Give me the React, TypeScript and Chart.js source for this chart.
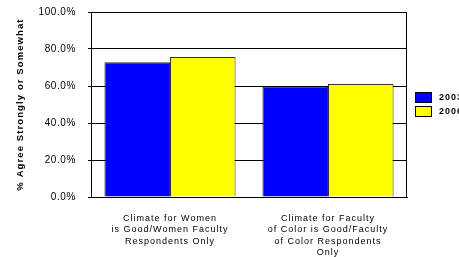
import React, { useEffect, useRef } from "react";
import { Chart, registerables, CategoryScale, LinearScale } from "chart.js";

Chart.register(...registerables);

class SpacedCategoryScale extends CategoryScale {
  static id = "spacedCategory";
  static defaults = CategoryScale.defaults;
  drawLabels(chartArea: any) {
    const ctx = (this as any).ctx as CanvasRenderingContext2D;
    ctx.save();
    (ctx as any).letterSpacing = "1px";
    super.drawLabels(chartArea);
    ctx.restore();
  }
}

class SpacedLinearScale extends LinearScale {
  static id = "spacedLinear";
  static defaults = LinearScale.defaults;
  drawTitle() {
    const ctx = (this as any).ctx as CanvasRenderingContext2D;
    ctx.save();
    (ctx as any).letterSpacing = "1.1px";
    super.drawTitle();
    ctx.restore();
  }
}
Chart.register(SpacedCategoryScale, SpacedLinearScale);

const categories: string[][] = [
  ["Climate for Women", "is Good/Women Faculty", "Respondents Only"],
  ["Climate for Faculty", "of Color is Good/Faculty", "of Color Respondents", "Only"],
];
const seriesLabels = ["2003", "2006"];
const values2003 = [72.8, 59.6];
const values2006 = [75.7, 61.1];
const seriesColors = ["#0000FF", "#FFFF00"];
const yTicks = [0, 20, 40, 60, 80, 100];

const FONT = "Arial, 'Liberation Sans', sans-serif";

const framePlugin = {
  id: "frame",
  beforeDraw(chart: any) {
    (chart.ctx as any).letterSpacing = "0.6px";
  },
  afterDatasetsDraw(chart: any) {
    const { ctx, chartArea } = chart;
    ctx.save();
    ctx.strokeStyle = "#000";
    ctx.lineWidth = 1;
    ctx.strokeRect(
      Math.round(chartArea.left) + 0.5,
      Math.round(chartArea.top) + 0.5,
      Math.round(chartArea.right - chartArea.left) - 1,
      Math.round(chartArea.bottom - chartArea.top)
    );
    ctx.restore();
  },
  afterDraw(chart: any) {
    const { ctx, chartArea } = chart;
    ctx.save();
    (ctx as any).letterSpacing = "1px";
    const boxW = 17;
    const boxH = 11;
    const rowH = 14;
    const ds = chart.data.datasets;
    const total = ds.length * rowH - (rowH - boxH);
    const cy = (chartArea.top + chartArea.bottom) / 2;
    const x0 = Math.round(chartArea.right + 8);
    let y = Math.round(cy - total / 2);
    ctx.font = `bold 9px ${FONT}`;
    ctx.textBaseline = "middle";
    ctx.textAlign = "left";
    ds.forEach((d: any) => {
      ctx.fillStyle = d.backgroundColor;
      ctx.fillRect(x0, y, boxW, boxH);
      ctx.strokeStyle = "#000";
      ctx.lineWidth = 1;
      ctx.strokeRect(x0 + 0.5, y + 0.5, boxW - 1, boxH - 1);
      ctx.fillStyle = "#000";
      ctx.fillText(d.label, x0 + boxW + 7, y + boxH / 2 + 0.5);
      y += rowH;
    });
    ctx.restore();
  },
};

export default function App() {
  const ref = useRef<HTMLCanvasElement | null>(null);
  useEffect(() => {
    document.body.style.margin = "0";
    if (!ref.current) return;
    const chart = new Chart(ref.current, {
      type: "bar",
      data: {
        labels: categories as any,
        datasets: [
          {
            label: seriesLabels[0],
            data: values2003,
            backgroundColor: seriesColors[0],
            borderColor: "#333",
            borderWidth: 1,
            categoryPercentage: 0.83,
            barPercentage: 1,
          },
          {
            label: seriesLabels[1],
            data: values2006,
            backgroundColor: seriesColors[1],
            borderColor: "#333",
            borderWidth: 1,
            categoryPercentage: 0.83,
            barPercentage: 1,
          },
        ],
      },
      options: {
        animation: false,
        responsive: true,
        maintainAspectRatio: false,
        layout: { padding: { top: 12, right: 52, left: 0, bottom: 0 } },
        plugins: {
          legend: { display: false },
          tooltip: { enabled: false },
        },
        scales: {
          x: {
            type: "spacedCategory" as any,
            grid: { display: false },
            border: { display: true, color: "#000", width: 1 },
            ticks: {
              color: "#000",
              font: { family: FONT, size: 9, lineHeight: 1.25 },
              padding: 8,
              maxRotation: 0,
              minRotation: 0,
              autoSkip: false,
            },
            afterFit: (s: any) => {
              s.height = 60;
              s.paddingLeft = 0;
              s.paddingRight = 0;
            },
          },
          y: {
            type: "spacedLinear" as any,
            min: 0,
            max: 100,
            afterBuildTicks: (s: any) => {
              s.ticks = yTicks.map((v) => ({ value: v }));
            },
            grid: {
              color: "#000",
              lineWidth: 1,
              drawTicks: true,
              tickLength: 3,
            },
            border: { display: true, color: "#000", width: 1 },
            ticks: {
              color: "#000",
              font: { family: FONT, size: 10 },
              padding: 12,
              callback: (v: any) => Number(v).toFixed(1) + "%",
            },
            title: {
              display: true,
              text: "% Agree Strongly or Somewhat",
              color: "#000",
              font: { family: FONT, size: 9.5, weight: "bold" },
              padding: { top: 14.3, bottom: 0 },
            },
            afterFit: (s: any) => {
              s.width = 91;
              s.paddingTop = 0;
              s.paddingBottom = 0;
            },
          },
        },
      },
      plugins: [framePlugin],
    });
    return () => chart.destroy();
  }, []);
  return (
    <div style={{ width: 459, height: 257, position: "relative" }}>
      <canvas ref={ref} />
    </div>
  );
}
